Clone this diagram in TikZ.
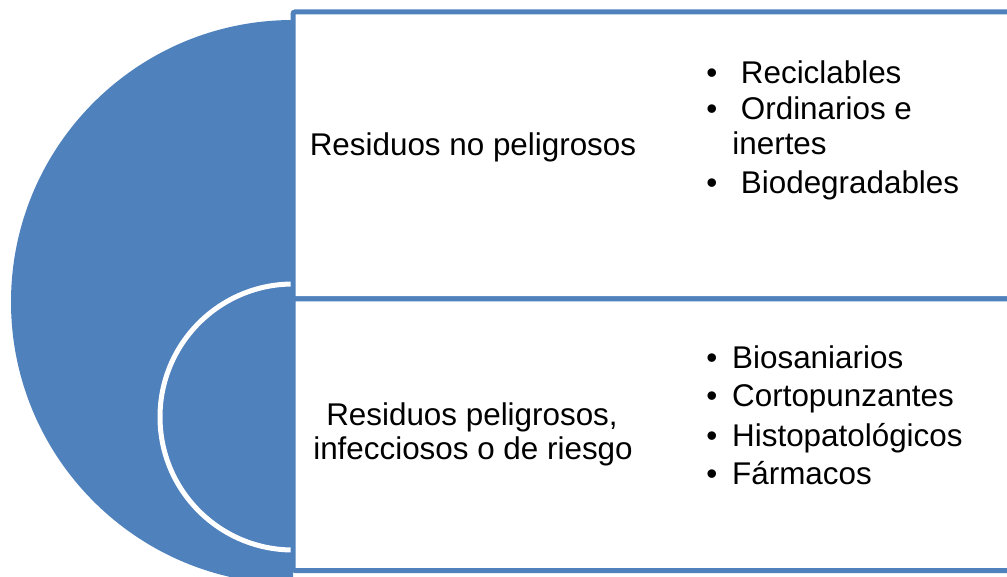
\documentclass[tikz,border=0pt]{standalone}
\usepackage{fontspec}
\setmainfont{Liberation Sans}
\usepackage{tikz}
\definecolor{officeblue}{HTML}{4F81BD}
\tikzset{
    panel/.style={rectangle,draw=officeblue,line width=2.5pt,fill=white,rounded corners=1pt,anchor=north west,inner sep=0pt,outer sep=0pt,minimum width=359.5pt},
    heading/.style={anchor=base,inner sep=0pt},
    bul/.style={anchor=base west,inner sep=0pt},
    entry/.style={anchor=base west,inner sep=0pt},
}
\usetikzlibrary{positioning}

\begin{document}
\begin{tikzpicture}[x=0.5pt,y=-0.5pt,font=\fontsize{15.7}{17}\selectfont]
\useasboundingbox (0,0) rectangle (1007,577);
\clip (0,0) rectangle (1007,577);
% half discs
\begin{scope}
\clip (0,0) rectangle (293,577);
\fill[officeblue] (293,302) circle[radius=141pt];
\end{scope}
\draw[white,line width=2.5pt,fill=officeblue] (293,417) circle[radius=66.5pt];
% panels
\node[panel,minimum height=143.5pt] (upper) at (293,12) {};
\node[panel,minimum height=135.75pt] (lower) at (293,299) {};

\node[heading] (nopel) at (473,156) {Residuos no peligrosos};
\node[heading] (pel1) at (472,425) {Residuos peligrosos,};
\node[heading] (pel2) at (473,459) {infecciosos o de riesgo};

\node[bul] (b1) at (706,84) {\textbullet};
\node[entry] (recic) [base right=7pt of b1] {\ Reciclables};
\node[bul] (b2) at (706,120) {\textbullet};
\node[entry] (ordin) [base right=7pt of b2] {\ Ordinarios e};
\node[entry] (inert) at (732,155) {inertes};
\node[bul] (b3) at (706,194) {\textbullet};
\node[entry] (biodeg) [base right=7pt of b3] {\ Biodegradables};

\node[bul] (b4) at (706,368) {\textbullet};
\node[entry] (biosan) [base right=7pt of b4] {Biosaniarios};
\node[bul] (b5) at (706,407) {\textbullet};
\node[entry] (corto) [base right=7pt of b5] {Cortopunzantes};
\node[bul] (b6) at (706,446) {\textbullet};
\node[entry] (histo) [base right=7pt of b6] {Histopatológicos};
\node[bul] (b7) at (706,484) {\textbullet};
\node[entry] (farm) [base right=7pt of b7] {Fármacos};
\end{tikzpicture}
\end{document}
